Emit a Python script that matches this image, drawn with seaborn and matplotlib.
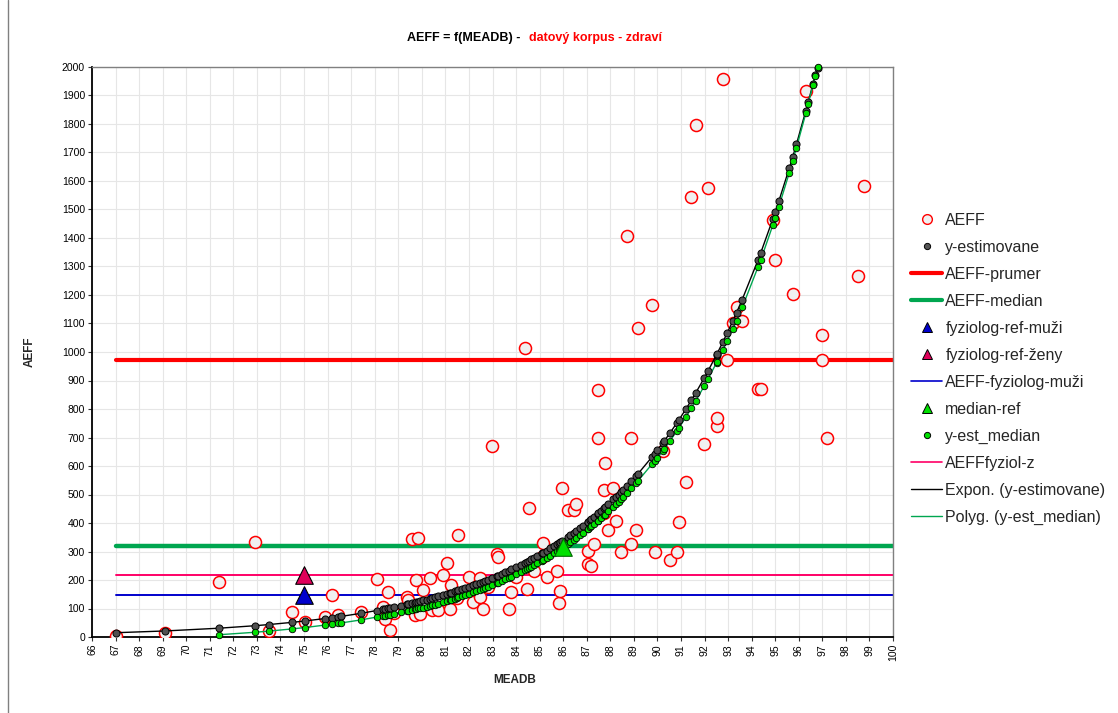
import matplotlib
matplotlib.use("Agg")
import matplotlib.pyplot as plt
from matplotlib.lines import Line2D
import seaborn as sns

# ---------------- data ----------------
meadb_aeff = [67.0, 69.1, 71.4, 72.9, 73.5, 74.5, 75.05, 75.9, 76.2, 76.45, 77.4, 78.1, 78.35, 78.43,
              78.58, 78.65, 78.8, 79.35, 79.42, 79.57, 79.7, 79.75, 79.85, 79.93, 80.06, 80.35, 80.42,
              80.7, 80.9, 81.05, 81.2, 81.24, 81.5, 81.55, 82.0, 82.18, 82.47, 82.47, 82.58, 82.82,
              82.96, 83.18, 83.22, 83.7, 83.8, 84.0, 84.36, 84.47, 84.56, 84.76, 85.1, 85.16, 85.3,
              85.74, 85.83, 85.86, 85.96, 86.2, 86.45, 86.55, 87.04, 87.07, 87.2, 87.32, 87.47, 87.48,
              87.75, 87.75, 87.77, 87.92, 88.13, 88.24, 88.45, 88.72, 88.9, 88.9, 89.08, 89.17, 89.77,
              89.88, 90.22, 90.52, 90.82, 90.9, 91.2, 91.44, 91.63, 91.99, 92.15, 92.51, 92.53, 92.77,
              92.97, 93.2, 93.36, 93.6, 94.28, 94.38, 94.9, 95.0, 95.74, 96.3, 97.0, 97.0, 97.2, 98.5,
              98.78]
aeff = [5, 14, 193, 334, 20, 88, 53, 70, 146, 78, 88, 203, 105, 64, 157, 25, 84, 140, 130, 344, 78,
        200, 348, 82, 164, 208, 95, 95, 218, 260, 98, 182, 137, 357, 212, 124, 140, 208, 100, 176, 671,
        290, 279, 100, 159, 209, 1014, 168, 454, 231, 279, 329, 212, 232, 118, 160, 522, 447, 444, 466,
        255, 302, 248, 327, 700, 867, 436, 517, 610, 374, 524, 408, 300, 1408, 327, 700, 376, 1084,
        1165, 300, 653, 270, 300, 405, 543, 1544, 1795, 677, 1574, 742, 767, 1958, 972, 1100, 1159,
        1110, 869, 869, 1463, 1323, 1204, 1916, 1061, 972, 697, 1267, 1584]

meadb_est = [67.0, 69.1, 71.4, 72.9, 73.5, 74.5, 75.05, 75.9, 76.2, 76.45, 76.55, 77.4, 78.1, 78.35,
             78.43, 78.58, 78.65, 78.8, 79.1, 79.35, 79.42, 79.57, 79.7, 79.75, 79.85, 79.93, 80.06,
             80.2, 80.35, 80.42, 80.55, 80.7, 80.9, 81.05, 81.2, 81.24, 81.4, 81.5, 81.55, 81.7, 81.85,
             82.0, 82.18, 82.3, 82.47, 82.58, 82.7, 82.82, 82.96, 83.18, 83.22, 83.4, 83.55, 83.7, 83.8,
             84.0, 84.2, 84.36, 84.47, 84.56, 84.65, 84.76, 84.9, 85.1, 85.16, 85.3, 85.45, 85.6, 85.74,
             85.83, 85.86, 85.96, 86.2, 86.3, 86.45, 86.55, 86.7, 86.85, 87.04, 87.07, 87.15, 87.2,
             87.32, 87.47, 87.48, 87.6, 87.75, 87.77, 87.92, 88.13, 88.24, 88.35, 88.45, 88.55, 88.72,
             88.9, 89.08, 89.17, 89.77, 89.88, 90.0, 90.22, 90.3, 90.52, 90.82, 90.9, 91.2, 91.44,
             91.63, 91.99, 92.15, 92.51, 92.53, 92.77, 92.97, 93.2, 93.36, 93.6, 94.28, 94.38, 94.9,
             95.0, 95.15, 95.6, 95.74, 95.9, 96.3, 96.4, 96.6, 96.7, 96.8]
y_estimovane = [15.0, 21.2, 30.9, 39.5, 43.6, 51.4, 56.3, 64.7, 68.0, 70.8, 72.0, 82.8, 92.9, 96.7, 98.0,
                100.5, 101.6, 104.2, 109.5, 114.1, 115.3, 118.3, 120.8, 121.8, 123.9, 125.5, 128.2,
                131.1, 134.4, 135.9, 138.8, 142.4, 147.1, 150.7, 154.5, 155.5, 159.7, 162.3, 163.7,
                167.7, 171.9, 176.2, 181.5, 185.1, 190.3, 193.8, 197.7, 201.6, 206.2, 213.9, 215.4,
                221.8, 227.4, 233.0, 236.9, 244.7, 252.9, 259.6, 264.3, 268.2, 272.1, 277.2, 283.7,
                293.2, 296.2, 303.0, 310.6, 318.3, 325.6, 330.5, 332.0, 337.4, 351.3, 357.1, 366.1,
                372.1, 381.3, 390.9, 403.2, 405.2, 410.6, 414.0, 422.2, 432.6, 433.4, 442.1, 453.1,
                454.7, 465.9, 482.5, 491.0, 500.0, 508.3, 516.9, 531.4, 547.3, 563.7, 572.0, 631.5,
                642.6, 655.7, 679.8, 688.8, 714.2, 750.1, 760.2, 798.5, 830.6, 856.9, 909.2, 933.5,
                990.3, 993.6, 1033.6, 1068.1, 1108.8, 1138.3, 1184.2, 1324.5, 1346.5, 1466.5, 1491.0,
                1528.3, 1645.5, 1683.3, 1728.5, 1845.7, 1876.3, 1939.0, 1971.0, 1998.0]

meadb_med = meadb_est[2:]
y_est_median = [8, 16.5, 20.6, 28.4, 33.3, 41.7, 45.0, 47.8, 49.0, 59.8, 69.9, 73.7, 75.0, 77.5, 78.6,
                81.2, 86.5, 91.1, 92.3, 95.3, 97.8, 98.8, 100.9, 102.5,
                103.2, 106.1, 109.4, 110.9, 113.8, 117.4, 122.1, 125.7, 129.5, 130.5, 134.7, 137.3,
                138.7, 142.7, 146.9, 151.2, 156.5, 160.1, 165.3, 168.8, 172.7, 176.6, 181.2, 188.9,
                190.4, 196.8, 202.4, 208.0, 211.9, 219.7, 227.9, 234.6, 239.3, 243.2, 247.1, 252.2,
                258.7, 268.2, 271.2, 278.0, 285.6, 293.3, 300.6, 305.5, 307.0, 312.4, 326.3, 332.1,
                341.1, 347.1, 356.3, 365.9, 378.2, 380.2, 385.6, 389.0, 397.2, 407.6, 408.4, 417.1,
                428.1, 429.7, 440.9, 457.5, 466.0, 475.0, 483.3, 491.9, 506.4, 522.3, 538.7, 547.0,
                606.5, 617.6,
                627.7, 651.8, 660.8, 686.2, 722.1, 732.2, 770.5, 802.6, 828.9, 881.2, 905.5, 962.3,
                965.6, 1005.6, 1040.1, 1080.8, 1110.3, 1156.2, 1299.5, 1321.5, 1444.5, 1469.0, 1508.3,
                1629.5, 1669.3, 1716.5, 1837.7, 1870.3, 1936.0, 1970.0, 2000.0]

ref_line_x = [67, 100]
aeff_prumer = 972
aeff_median = 319
aeff_fyziolog_muzi = 148
aeff_fyziol_z = 219
fyziolog_ref_x = 75
median_ref = (86, 315)

x_ticks = list(range(66, 101))
y_ticks = list(range(0, 2001, 100))

# ---------------- style ----------------
sns.set_style("white")
plt.rcParams['font.family'] = ['Liberation Sans', 'DejaVu Sans']

W, H = 1118, 713
fig = plt.figure(figsize=(W / 100, H / 100), dpi=100)
ax = fig.add_axes([92 / W, 1 - 637 / H, (893 - 92) / W, (637 - 67) / H])

RED = '#FF0000'
GREEN_LINE = '#00A650'
BLUE = '#0000CC'
PINK = '#FF0066'
PINK_TRI = '#E0005A'
LIME = '#00E000'

# reference horizontal lines
sns.lineplot(x=ref_line_x, y=[aeff_prumer] * 2, color=RED, lw=3.0, ax=ax, zorder=2)
sns.lineplot(x=ref_line_x, y=[aeff_median] * 2, color=GREEN_LINE, lw=3.2, ax=ax, zorder=2)
sns.lineplot(x=ref_line_x, y=[aeff_fyziolog_muzi] * 2, color=BLUE, lw=1.4, ax=ax, zorder=2)
sns.lineplot(x=ref_line_x, y=[aeff_fyziol_z] * 2, color=PINK, lw=1.4, ax=ax, zorder=2)

# AEFF points
sns.scatterplot(x=meadb_aeff, y=aeff, s=75, color='#F0F0F0', edgecolor=RED, linewidth=1.1,
                ax=ax, zorder=3)

# trend lines
sns.lineplot(x=meadb_est, y=y_estimovane, color='black', lw=1.0, estimator=None, sort=True,
             ax=ax, zorder=3.5)
sns.lineplot(x=meadb_med, y=y_est_median, color=GREEN_LINE, lw=1.0, estimator=None, sort=True,
             ax=ax, zorder=3.5)

# estimated points
sns.scatterplot(x=meadb_est, y=y_estimovane, s=26, color='#505050', edgecolor='black',
                linewidth=0.7, ax=ax, zorder=4, clip_on=False)
sns.scatterplot(x=meadb_med, y=y_est_median, s=22, color=LIME, edgecolor='black',
                linewidth=0.6, ax=ax, zorder=5, clip_on=False)

# reference triangles
sns.scatterplot(x=[fyziolog_ref_x], y=[aeff_fyziolog_muzi], marker='^', s=160, color=BLUE,
                edgecolor='black', linewidth=0.8, ax=ax, zorder=6)
sns.scatterplot(x=[fyziolog_ref_x], y=[aeff_fyziol_z], marker='^', s=160, color=PINK_TRI,
                edgecolor='black', linewidth=0.8, ax=ax, zorder=6)
sns.scatterplot(x=[median_ref[0]], y=[median_ref[1]], marker='^', s=160, color=LIME,
                edgecolor='#006600', linewidth=0.8, ax=ax, zorder=6)

# axes
ax.set_xlim(66, 100)
ax.set_ylim(0, 2000)
ax.set_xticks(x_ticks)
ax.set_xticklabels([str(t) for t in x_ticks], rotation=90)
ax.set_yticks(y_ticks)
ax.set_yticklabels([str(t) for t in y_ticks])
ax.tick_params(axis='both', labelsize=7.5, length=3, width=0.8, direction='out',
               bottom=True, left=True, colors='#333333', labelcolor='black', pad=2)
ax.grid(True, color='#E6E6E6', lw=0.8)
ax.set_axisbelow(True)
for side in ('left', 'bottom'):
    ax.spines[side].set_color('black')
    ax.spines[side].set_linewidth(1.3)
for side in ('top', 'right'):
    ax.spines[side].set_color('#808080')
    ax.spines[side].set_linewidth(1.0)

ax.set_xlabel('MEADB', fontsize=8.5, fontweight='bold')
ax.set_ylabel('AEFF', fontsize=8.5, fontweight='bold')
ax.xaxis.set_label_coords((515 - 92) / 801, -(680 - 637) / 570)
ax.xaxis.label.set_va('center')
ax.yaxis.set_label_coords((30 - 92) / 801, 0.5)
ax.yaxis.label.set_va('center')
ax.yaxis.label.set_ha('center')

# title
fig.text(527 / W, 1 - 38 / H, 'AEFF = f(MEADB) -  ', ha='right', va='center',
         fontsize=9, fontweight='bold', color='black')
fig.text(529 / W, 1 - 38 / H, 'datový korpus - zdraví', ha='left', va='center',
         fontsize=9, fontweight='bold', color=RED)

# left frame line
fig.add_artist(Line2D([8 / W, 8 / W], [0, 1], transform=fig.transFigure, color='#808080', lw=1))

# legend
handles = [
    Line2D([], [], ls='none', marker='o', ms=7, mfc='#F0F0F0', mec=RED, mew=1.0),
    Line2D([], [], ls='none', marker='o', ms=4.5, mfc='#555555', mec='black', mew=0.7),
    Line2D([], [], color=RED, lw=3.0),
    Line2D([], [], color=GREEN_LINE, lw=3.0),
    Line2D([], [], ls='none', marker='^', ms=6.5, mfc=BLUE, mec='black', mew=0.7),
    Line2D([], [], ls='none', marker='^', ms=6.5, mfc=PINK_TRI, mec='black', mew=0.7),
    Line2D([], [], color=BLUE, lw=1.2),
    Line2D([], [], ls='none', marker='^', ms=6.5, mfc=LIME, mec='black', mew=0.7),
    Line2D([], [], ls='none', marker='o', ms=4.5, mfc=LIME, mec='black', mew=0.7),
    Line2D([], [], color=PINK, lw=1.2),
    Line2D([], [], color='black', lw=1.0),
    Line2D([], [], color=GREEN_LINE, lw=1.0),
]
labels = ['AEFF', 'y-estimovane', 'AEFF-prumer', 'AEFF-median', 'fyziolog-ref-muži',
          'fyziolog-ref-ženy', 'AEFF-fyziolog-muži', 'median-ref', 'y-est_median',
          'AEFFfyziol-z', 'Expon. (y-estimovane)', 'Polyg. (y-est_median)']
fig.legend(handles, labels, loc='center left', bbox_to_anchor=(911 / W, 1 - 369 / H),
           frameon=False, fontsize=11.5, labelspacing=0.75, handlelength=1.95,
           handletextpad=0.2, borderpad=0, borderaxespad=0)

fig.savefig('out.png', dpi=100)
